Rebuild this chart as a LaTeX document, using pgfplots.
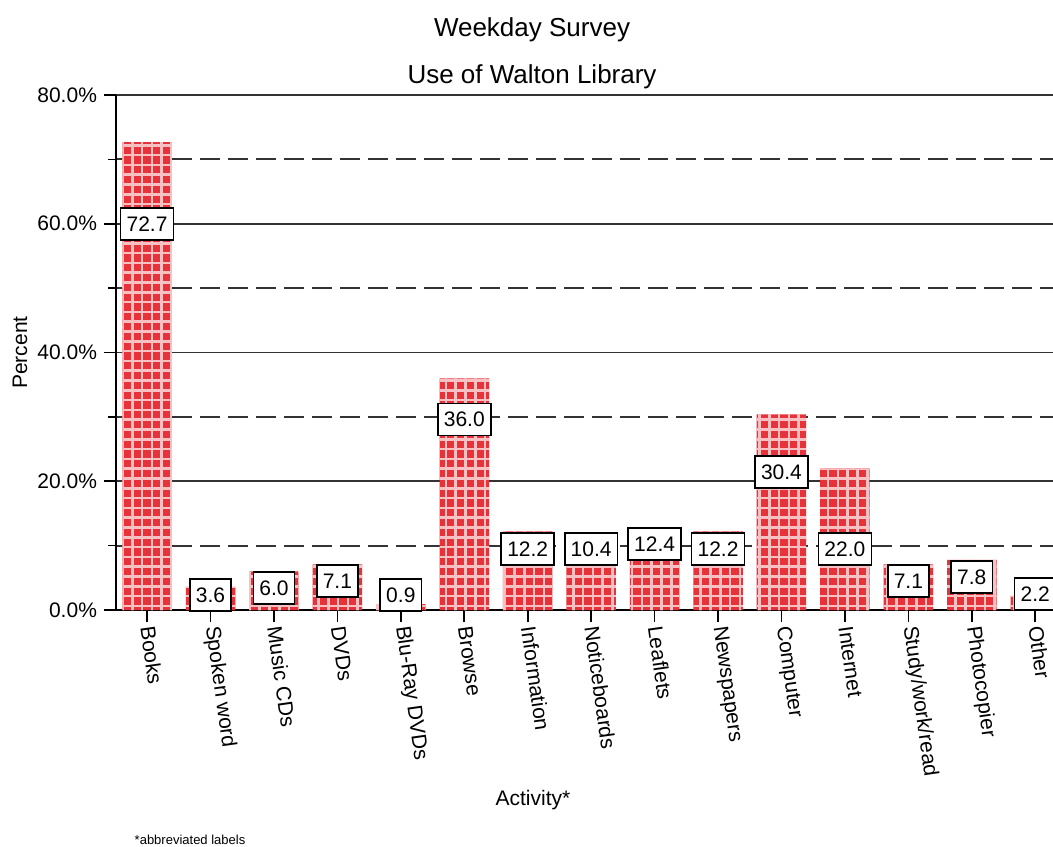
\documentclass[border=0pt]{standalone}
\usepackage{fontspec}
\setmainfont{Liberation Sans}
\usepackage{pgfplots}
\usepackage{pgfplotstable}
\pgfplotsset{compat=1.18}
\usetikzlibrary{patterns}

\definecolor{barred}{RGB}{230,50,56}
\definecolor{gridpink}{RGB}{247,192,194}

% white-ish check pattern over the red bars
\pgfdeclarepatternformonly{spssgrid}{\pgfqpoint{-1pt}{-1pt}}{\pgfqpoint{5.9pt}{5.9pt}}{\pgfqpoint{4.9pt}{4.9pt}}{%
  \pgfsetlinewidth{1.3pt}%
  \pgfpathmoveto{\pgfqpoint{-0.5pt}{2.45pt}}\pgfpathlineto{\pgfqpoint{5.4pt}{2.45pt}}%
  \pgfpathmoveto{\pgfqpoint{2.45pt}{-0.5pt}}\pgfpathlineto{\pgfqpoint{2.45pt}{5.4pt}}%
  \pgfusepath{stroke}}

% x = category index, val = percent, ly = height of the value box
\pgfplotstableread{
x  val   ly
0  72.7  60.0
1  3.6   2.3
2  6.0   3.4
3  7.1   4.5
4  0.9   2.3
5  36.0  29.6
6  12.2  9.5
7  10.4  9.5
8  12.4  10.3
9  12.2  9.5
10 30.4  21.4
11 22.0  9.5
12 7.1   4.5
13 7.8   5.1
14 2.2   2.5
}\datatable

\newcommand{\lbl}{\fontsize{10.5}{12}\selectfont}

\begin{document}
\begin{tikzpicture}
\begin{axis}[
  scale only axis, width=468.5pt, height=257.5pt,
  xmin=-0.49, xmax=14.28, ymin=0, ymax=80,
  axis x line=bottom, axis y line=left,
  axis line style={-, line width=1pt, black},
  xtick={0,...,14},
  xticklabels={Books, Spoken word, Music CDs, DVDs, Blu-Ray DVDs, Browse, Information, Noticeboards, Leaflets, Newspapers, Computer, Internet, Study/work/read, Photocopier, Other},
  xticklabel style={rotate=-82, anchor=west, font=\lbl, inner sep=2pt},
  ytick={0,20,...,80}, minor ytick={10,30,50,70},
  yticklabel={\pgfmathprintnumber[fixed,fixed zerofill,precision=1]{\tick}\%},
  yticklabel style={font=\lbl},
  /pgf/number format/assume math mode=true,
  ymajorgrids, yminorgrids,
  major grid style={black!80, line width=0.8pt},
  minor grid style={black!80, line width=0.9pt, dash pattern=on 10pt off 4pt},
  tick style={black, line width=0.8pt}, tick align=outside,
  major tick length=6pt, minor tick length=4pt,
  clip=false,
]
\addplot[ybar, bar width=0.78, fill=barred, draw=none,
  postaction={pattern=spssgrid, pattern color=gridpink}]
  table[x=x, y=val] {\datatable};
\addplot[draw=none, mark=none, point meta=explicit symbolic,
  nodes near coords,
  nodes near coords style={anchor=center, fill=white, draw=black, line width=0.8pt,
    inner xsep=3pt, inner ysep=2pt, minimum height=16pt, font=\lbl}]
  table[x=x, y=ly, meta=val] {\datatable};

\node[font=\fontsize{13}{15}\selectfont] at (rel axis cs:0.444,1.126) {Weekday Survey};
\node[font=\fontsize{13}{15}\selectfont] at (rel axis cs:0.444,1.035) {Use of Walton Library};
\node[font=\lbl, rotate=90] at (rel axis cs:-0.1025,0.5) {Percent};
\node[font=\lbl] at (rel axis cs:0.445,-0.369) {Activity*};
\node[font=\fontsize{6.5}{8}\selectfont] at (rel axis cs:0.079,-0.4466) {*abbreviated labels};
\coordinate (bbl) at (rel axis cs:-0.1238,-0.4583);
\coordinate (btr) at (rel axis cs:1,1.1845);
\end{axis}
\pgfresetboundingbox
\useasboundingbox (bbl) rectangle (btr);
\end{tikzpicture}
\end{document}
